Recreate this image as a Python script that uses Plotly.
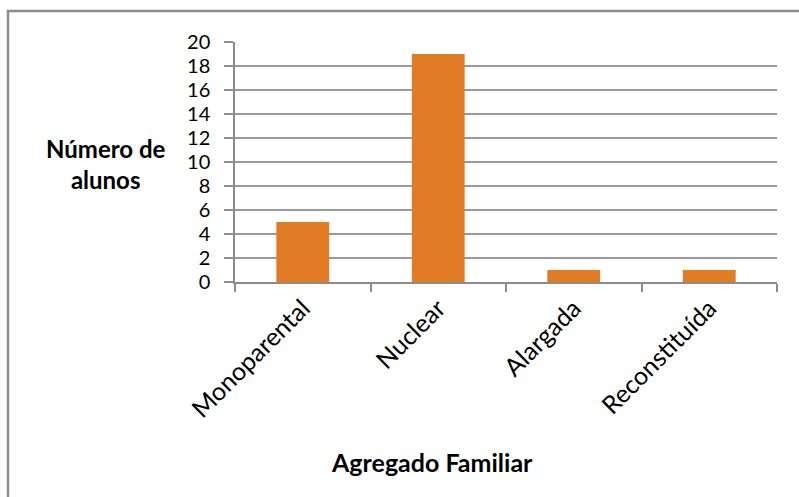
import plotly.graph_objects as go

# Family household types and number of students in each
categorias = ["Monoparental", "Nuclear", "Alargada", "Reconstituída"]
alunos = [5, 19, 1, 1]
y_ticks = list(range(0, 21, 2))

FONT = "Lato"

fig = go.Figure()
fig.add_trace(go.Bar(
    x=categorias,
    y=alunos,
    marker=dict(color="#E27B25", line=dict(width=0)),
    hoverinfo="x+y",
))

fig.update_layout(
    width=799,
    height=497,
    margin=dict(l=235, r=22, t=42, b=215),
    paper_bgcolor="white",
    plot_bgcolor="white",
    bargap=0.61,
    showlegend=False,
    font=dict(family=FONT, color="#000000"),
    xaxis=dict(
        type="category",
        tickson="boundaries",
        ticks="outside",
        ticklen=8,
        tickcolor="#8c8c8c",
        tickwidth=1.5,
        showline=True,
        linecolor="#8c8c8c",
        linewidth=1.5,
        showgrid=False,
        tickangle=-45,
        tickfont=dict(family=FONT, size=25, color="#000000"),
    ),
    yaxis=dict(
        range=[0, 20],
        tickvals=y_ticks,
        ticks="outside",
        ticklen=9,
        tickcolor="#8c8c8c",
        tickwidth=1.5,
        showline=True,
        linecolor="#8c8c8c",
        linewidth=1.5,
        showgrid=True,
        gridcolor="#9a9a9a",
        gridwidth=1.5,
        zeroline=False,
        ticklabelstandoff=10,
        tickfont=dict(family=FONT, size=20, color="#000000"),
    ),
    annotations=[
        dict(
            text="<b>Número de<br>alunos</b>",
            xref="paper", yref="paper",
            x=(106 - 235) / 542, y=(282 - 164) / 240,
            xanchor="center", yanchor="middle",
            showarrow=False, align="center",
            font=dict(family=FONT, size=24, color="#000000"),
        ),
        dict(
            text="<b>Agregado Familiar</b>",
            xref="paper", yref="paper",
            x=(432 - 235) / 542, y=(282 - 462) / 240,
            xanchor="center", yanchor="middle",
            showarrow=False,
            font=dict(family=FONT, size=25, color="#000000"),
        ),
    ],
    shapes=[
        dict(
            type="rect",
            xref="paper", yref="paper",
            x0=(8 - 235) / 542, x1=(810 - 235) / 542,
            y0=(282 - 510) / 240, y1=(282 - 11) / 240,
            line=dict(color="#8c8c8c", width=2.5),
            fillcolor="rgba(0,0,0,0)",
            layer="below",
        )
    ],
)

fig.write_html("out.html")
